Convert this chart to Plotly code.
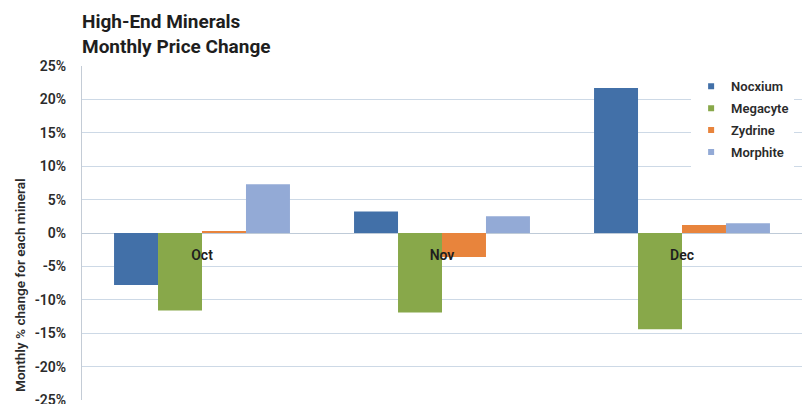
import plotly.graph_objects as go

months = ["Oct", "Nov", "Dec"]
minerals = ["Nocxium", "Megacyte", "Zydrine", "Morphite"]
colors = ["#4270a8", "#88a84a", "#e8843c", "#93aad6"]

# monthly % change per mineral (Oct, Nov, Dec)
nocxium = [-7.8, 3.2, 21.7]
megacyte = [-11.6, -11.9, -14.4]
zydrine = [0.3, -3.6, 1.2]
morphite = [7.3, 2.5, 1.45]

series = [nocxium, megacyte, zydrine, morphite]
y_ticks = [-25, -20, -15, -10, -5, 0, 5, 10, 15, 20, 25]

fig = go.Figure()
for name, vals, col in zip(minerals, series, colors):
    fig.add_trace(go.Bar(
        x=months, y=vals, name=name,
        marker=dict(color=col, line=dict(width=0)),
        legendgroup=name, showlegend=False,
    ))
    # small square swatch for the legend entry
    fig.add_trace(go.Scatter(
        x=[None], y=[None], name=name, mode="markers",
        marker=dict(symbol="square", size=6, color=col),
        legendgroup=name, showlegend=True,
    ))

font_family = "Roboto"
text_color = "#2b2b2b"

fig.update_layout(
    width=802, height=404,
    margin=dict(l=82, r=0, t=66, b=4, autoexpand=False),
    paper_bgcolor="white", plot_bgcolor="white",
    barmode="group", bargap=0.267, bargroupgap=0,
    showlegend=True,
    legend=dict(
        x=0.846, y=0.984, xanchor="left", yanchor="top",
        bgcolor="white", borderwidth=0,
        font=dict(family=font_family, size=13, color=text_color, weight=600),
        tracegroupgap=2, itemwidth=30,
    ),
    xaxis=dict(
        anchor="free", position=0.5, automargin=False,
        showline=False, showgrid=False, zeroline=False,
        ticks="", ticklabelstandoff=12,
        tickfont=dict(family=font_family, size=14, color="#1e1e1e", weight=600),
    ),
    yaxis=dict(
        range=[-25, 25], tickvals=y_ticks, automargin=False,
        ticktext=[f"{v}%" for v in y_ticks],
        showgrid=True, gridcolor="#cdd9e6", gridwidth=1,
        zeroline=True, zerolinecolor="#bfcbd8", zerolinewidth=1,
        showline=True, linecolor="#c4ccd6", linewidth=1,
        ticks="", ticklabelstandoff=12, ticklabeloverflow="allow",
        tickfont=dict(family=font_family, size=14, color=text_color, weight=600),
    ),
    annotations=[
        dict(
            text="High-End Minerals<br>Monthly Price Change",
            xref="paper", yref="paper",
            x=-2 / 720, y=1 + 58 / 334,
            xanchor="left", yanchor="top", align="left",
            showarrow=False,
            font=dict(family=font_family, size=19, color="#1e1e1e", weight="bold"),
        ),
        dict(
            text="Monthly % change for each mineral",
            xref="paper", yref="paper",
            x=-62 / 720, y=(400 - 285) / 334,
            xanchor="center", yanchor="middle",
            textangle=-90, showarrow=False,
            font=dict(family=font_family, size=13.6, color=text_color, weight=600),
        ),
    ],
)

fig.write_html("out.html")
